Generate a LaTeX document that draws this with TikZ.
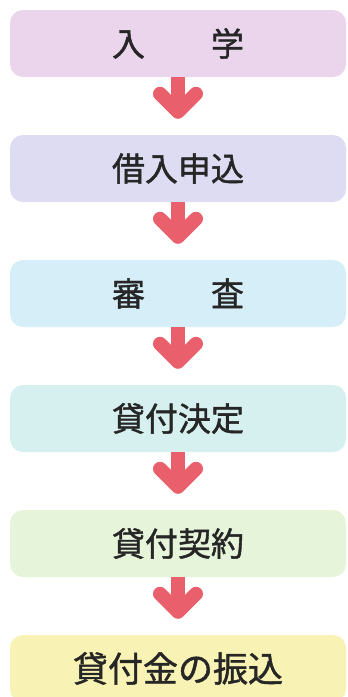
\documentclass[tikz,border=0pt]{standalone}
\usepackage{fontspec}
\newfontfamily\jpfont{Noto Sans CJK JP}[FakeBold=1.3]
\usetikzlibrary{arrows.meta}

\definecolor{nyuugaku}{HTML}{EAD5EC}
\definecolor{moushikomi}{HTML}{DEDCF3}
\definecolor{shinsa}{HTML}{D5EEF8}
\definecolor{kettei}{HTML}{D5F0EE}
\definecolor{keiyaku}{HTML}{E6F4DA}
\definecolor{furikomi}{HTML}{F8F3B4}
\definecolor{arrowred}{HTML}{EA5F6C}
\definecolor{textgray}{HTML}{262626}

\tikzset{
	stage/.style={rectangle, rounded corners=13pt, minimum width=336pt,
		minimum height=67pt, inner sep=0pt, text=textgray,
		font=\jpfont\fontsize{33}{33}\selectfont},
	flow/.style={draw=arrowred, line width=14pt, shorten >=16pt,
		-{Straight Barb[round, length=18pt, width=36pt]}}
}

\begin{document}
\begin{tikzpicture}[x=1pt, y=1pt]

\useasboundingbox (0,0) rectangle (348,-697);
\clip (0,0) rectangle (348,-697);

\node [stage, fill=nyuugaku]   (b1) at (178,-43.5)  {入　　学};
\node [stage, fill=moushikomi] (b2) at (178,-168.5) {借入申込};
\node [stage, fill=shinsa]     (b3) at (178,-293.5) {審　　査};
\node [stage, fill=kettei]     (b4) at (178,-418.5) {貸付決定};
\node [stage, fill=keiyaku]    (b5) at (178,-543.5) {貸付契約};
\node [stage, fill=furikomi, font=\jpfont\fontsize{35}{35}\selectfont]
	(b6) at (178,-668.5) {貸付金の振込};

%%%%%%%%%%%%%%%%%%%%%%%%%%%%%%%%%%%%%%%%%%

\draw [flow] (b1.south) to (b2.north);
\draw [flow] (b2.south) to (b3.north);
\draw [flow] (b3.south) to (b4.north);
\draw [flow] (b4.south) to (b5.north);
\draw [flow] (b5.south) to (b6.north);

\end{tikzpicture}
\end{document}
